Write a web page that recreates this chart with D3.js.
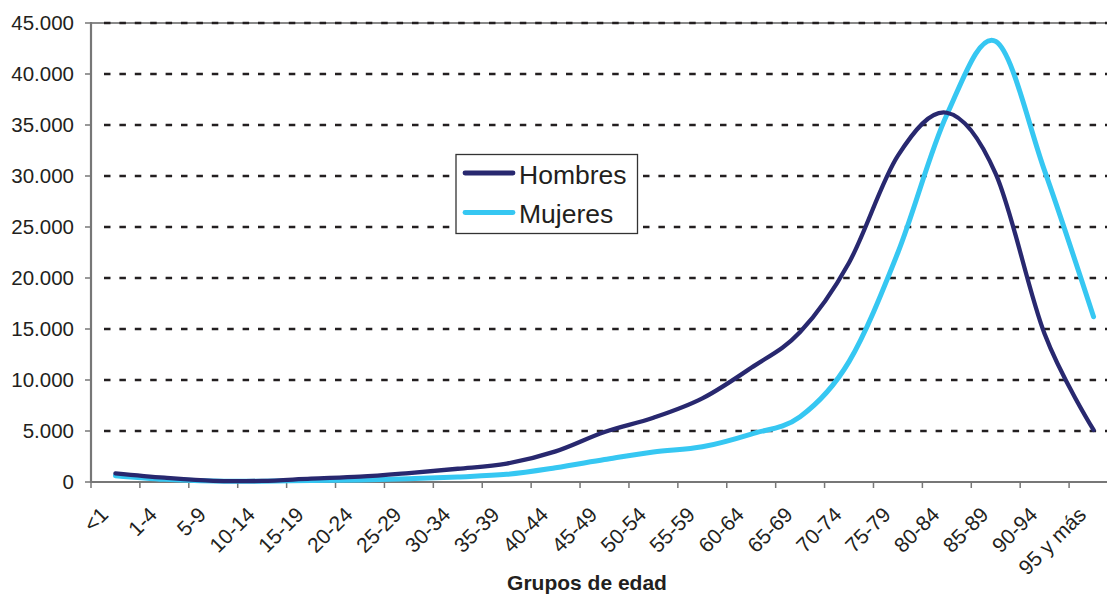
<!DOCTYPE html>
<html>
<head>
<meta charset="utf-8">
<script src="https://cdn.jsdelivr.net/npm/d3@7/dist/d3.min.js"></script>
<style>
  html, body { margin: 0; padding: 0; background: #fff; }
  svg { display: block; }
  text { font-family: "Liberation Sans", Arial, sans-serif; fill: #231f20; }
</style>
</head>
<body>
<svg id="chart" width="1107" height="596"></svg>
<script>
// ---- data ----
const categories = ["<1","1-4","5-9","10-14","15-19","20-24","25-29","30-34","35-39","40-44",
  "45-49","50-54","55-59","60-64","65-69","70-74","75-79","80-84","85-89","90-94","95 y más"];
const hombres = [850, 420, 110, 110, 330, 520, 880, 1300, 1800, 3000,
  4900, 6300, 8200, 11200, 14700, 21500, 32000, 36200, 30200, 14500, 5100];
const mujeres = [620, 260, 90, 80, 150, 200, 330, 500, 750, 1400,
  2200, 2950, 3450, 4700, 6400, 11800, 22500, 36000, 43200, 30500, 16200];
const seriesNames = ["Hombres", "Mujeres"];
const seriesColors = ["#28286f", "#36c7f2"];
const yTickValues = [0, 5000, 10000, 15000, 20000, 25000, 30000, 35000, 40000, 45000];
const yTickLabels = ["0", "5.000", "10.000", "15.000", "20.000", "25.000", "30.000", "35.000", "40.000", "45.000"];
const xTitle = "Grupos de edad";

// ---- layout ----
const svg = d3.select("#chart");
const mLeft = 91, mRight = 1118, mTop = 23, mBottom = 482;

const x = d3.scaleBand().domain(categories).range([mLeft, mRight]).paddingInner(0).paddingOuter(0);
const y = d3.scaleLinear().domain([0, 45000]).range([mBottom, mTop]);
const cx = d => x(d) + x.bandwidth() / 2;

// gridlines
const grid = svg.append("g");
grid.append("line")
  .attr("x1", mLeft).attr("x2", mRight)
  .attr("y1", y(45000)).attr("y2", y(45000))
  .attr("stroke", "#8a8a8a").attr("stroke-width", 2);
grid.selectAll("line.g").data(yTickValues.filter(v => v > 0))
  .enter().append("line").attr("class", "g")
  .attr("x1", mLeft + 13).attr("x2", mRight)
  .attr("y1", d => y(d)).attr("y2", d => y(d))
  .attr("stroke", "#231f20").attr("stroke-width", 2.6)
  .attr("stroke-dasharray", "6.5,8.9");

// axes lines
const axisColor = "#777";
svg.append("line").attr("x1", mLeft).attr("x2", mLeft).attr("y1", mTop - 1).attr("y2", mBottom + 1)
  .attr("stroke", axisColor).attr("stroke-width", 2.2);
svg.append("line").attr("x1", mLeft).attr("x2", mRight).attr("y1", mBottom).attr("y2", mBottom)
  .attr("stroke", axisColor).attr("stroke-width", 2.2);

// y ticks
svg.selectAll("line.yt").data(yTickValues).enter().append("line").attr("class", "yt")
  .attr("x1", mLeft - 6).attr("x2", mLeft).attr("y1", d => y(d)).attr("y2", d => y(d))
  .attr("stroke", axisColor).attr("stroke-width", 1.5);
svg.selectAll("text.yl").data(yTickValues).enter().append("text").attr("class", "yl")
  .attr("x", 74).attr("y", d => y(d)).attr("dy", "0.36em")
  .attr("text-anchor", "end").attr("font-size", 20.5)
  .text((d, i) => yTickLabels[i]);

// x ticks at band boundaries
const boundaries = categories.map(c => x(c)).concat([x(categories[categories.length - 1]) + x.bandwidth()]);
svg.selectAll("line.xt").data(boundaries).enter().append("line").attr("class", "xt")
  .attr("x1", d => d).attr("x2", d => d).attr("y1", mBottom).attr("y2", mBottom + 6)
  .attr("stroke", axisColor).attr("stroke-width", 1.5);
svg.selectAll("text.xl").data(categories).enter().append("text").attr("class", "xl")
  .attr("transform", d => `translate(${cx(d) - 6},${mBottom + 34}) rotate(-45)`)
  .attr("text-anchor", "end").attr("font-size", 21)
  .text(d => d);

// x title
svg.append("text").attr("x", 587).attr("y", 590).attr("text-anchor", "middle")
  .attr("font-size", 21).attr("font-weight", "bold").text(xTitle);

// lines
const line = d3.line().x((d, i) => cx(categories[i])).y(d => y(d)).curve(d3.curveCardinal.tension(0));
const series = [hombres, mujeres];
const widths = [4.3, 5];
[1, 0].forEach(k => {
  svg.append("path").datum(series[k])
    .attr("d", line).attr("fill", "none")
    .attr("stroke", seriesColors[k]).attr("stroke-width", widths[k])
    .attr("stroke-linecap", "round").attr("stroke-linejoin", "round");
});

// legend
const lg = svg.append("g");
lg.append("rect").attr("x", 456).attr("y", 154.5).attr("width", 181.5).attr("height", 79)
  .attr("fill", "#fff").attr("stroke", "#333").attr("stroke-width", 1.3);
seriesNames.forEach((name, i) => {
  const yy = 173 + i * 39.5;
  lg.append("line").attr("x1", 465).attr("x2", 513).attr("y1", yy).attr("y2", yy)
    .attr("stroke", seriesColors[i]).attr("stroke-width", 4.8).attr("stroke-linecap", "round");
  lg.append("text").attr("x", 519).attr("y", yy + 10.5).attr("font-size", 26.5).text(name);
});
</script>
</body>
</html>
